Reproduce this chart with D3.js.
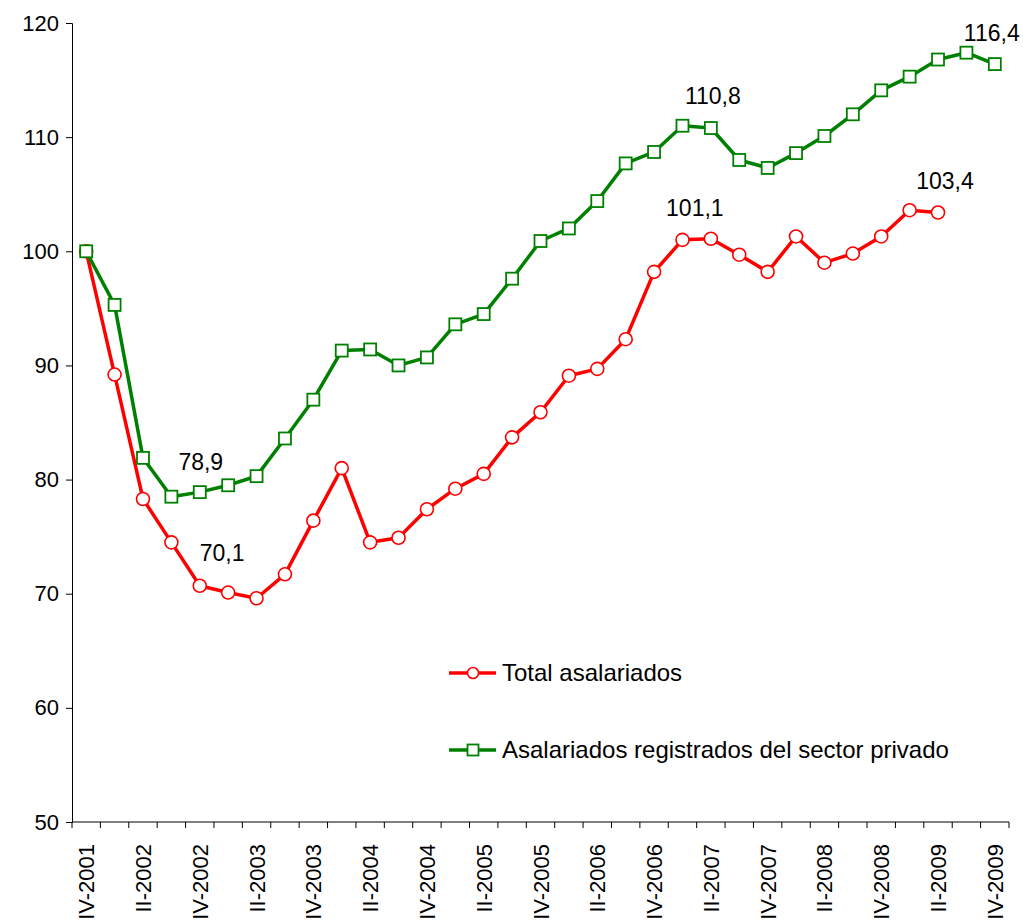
<!DOCTYPE html>
<html>
<head>
<meta charset="utf-8">
<script src="https://cdn.jsdelivr.net/npm/d3@7"></script>
<style>
  body { margin: 0; background: #fff; }
  text { font-family: "Liberation Sans", Arial, sans-serif; fill: #000; }
</style>
</head>
<body>
<div class="chart"></div>
<script>
// quarters IV-2001 .. IV-2009
var quarters = ["IV-2001",
  "I-2002", "II-2002", "III-2002", "IV-2002",
  "I-2003", "II-2003", "III-2003", "IV-2003",
  "I-2004", "II-2004", "III-2004", "IV-2004",
  "I-2005", "II-2005", "III-2005", "IV-2005",
  "I-2006", "II-2006", "III-2006", "IV-2006",
  "I-2007", "II-2007", "III-2007", "IV-2007",
  "I-2008", "II-2008", "III-2008", "IV-2008",
  "I-2009", "II-2009", "III-2009", "IV-2009"];

var totalAsalariados = [100,
  89.2, 78.3, 74.5, 70.7,
  70.1, 69.6, 71.7, 76.4,
  81.0, 74.5, 74.9, 77.4,
  79.2, 80.5, 83.7, 85.9,
  89.1, 89.7, 92.3, 98.2,
  101.0, 101.1, 99.7, 98.2,
  101.3, 99.0, 99.8, 101.3,
  103.6, 103.4];

var registradosPrivado = [100,
  95.3, 81.9, 78.5, 78.9,
  79.5, 80.3, 83.6, 87.0,
  91.3, 91.4, 90.0, 90.7,
  93.6, 94.5, 97.6, 100.9,
  102.0, 104.4, 107.7, 108.7,
  111.0, 110.8, 108.0, 107.3,
  108.6, 110.1, 112.0, 114.1,
  115.3, 116.8, 117.4, 116.4];

var yTicks = [50, 60, 70, 80, 90, 100, 110, 120];

var seriesNames = ["Total asalariados", "Asalariados registrados del sector privado"];

// annotated values: [series index, quarter, text]
var annotations = [
  [1, "IV-2002", "78,9"],
  [0, "I-2003", "70,1"],
  [1, "II-2007", "110,8"],
  [0, "II-2007", "101,1"],
  [0, "II-2009", "103,4"],
  [1, "IV-2009", "116,4"]
];
// label offsets from the point (px)
var annOffset = [[1, -30], [-6, -40], [2, -32], [-16, -31], [7, -32], [-3, -31]];

var svgWidth = 1023;
var svgHeight = 922;
var margin = { top: 23, right: 14, bottom: 100, left: 72 };
var width = svgWidth - margin.left - margin.right;
var height = svgHeight - margin.top - margin.bottom;

var svg = d3.select(".chart")
  .append("svg")
  .attr("width", svgWidth)
  .attr("height", svgHeight);

var chartGroup = svg.append("g")
  .attr("transform", `translate(${margin.left}, ${margin.top})`);

var xScale = d3.scaleBand()
  .domain(quarters)
  .range([0, width]);

var yScale = d3.scaleLinear()
  .domain([50, 120])
  .range([height, 0]);

var cx = d => xScale(d) + xScale.bandwidth() / 2;

// y axis
var leftAxis = d3.axisLeft(yScale).tickValues(yTicks).tickSize(6).tickPadding(7);
var yAxis = chartGroup.append("g").call(leftAxis);
yAxis.select(".domain").attr("stroke", "#000");
yAxis.selectAll(".tick line").attr("stroke", "#000");
yAxis.selectAll("text").style("font-size", "22px").attr("fill", "#000");

// x axis: ticks at category boundaries, labels every 2nd quarter
var xAxis = chartGroup.append("g").attr("transform", `translate(0, ${height})`);
xAxis.append("line")
  .attr("x1", 0).attr("x2", width)
  .attr("stroke", "#000");
var bounds = quarters.map(q => xScale(q)).concat([width]);
xAxis.selectAll("line.tk")
  .data(bounds)
  .enter()
  .append("line")
  .attr("class", "tk")
  .attr("x1", d => d).attr("x2", d => d)
  .attr("y1", 0).attr("y2", 6)
  .attr("stroke", "#000");
xAxis.selectAll("text")
  .data(quarters.filter((q, i) => i % 2 === 0))
  .enter()
  .append("text")
  .attr("transform", d => `translate(${cx(d) + 8}, 22) rotate(-90)`)
  .attr("text-anchor", "end")
  .style("font-size", "22px")
  .text(d => d);

var colors = ["#ff0000", "#008000"];
var allSeries = [totalAsalariados, registradosPrivado];

var line = d3.line()
  .x((d, i) => cx(quarters[i]))
  .y(d => yScale(d));

allSeries.forEach(function(vals, s) {
  chartGroup.append("path")
    .datum(vals)
    .attr("fill", "none")
    .attr("stroke", colors[s])
    .attr("stroke-width", 3.5)
    .attr("stroke-linejoin", "round")
    .attr("d", line);

  if (s === 0) {
    chartGroup.selectAll("circle.pt")
      .data(vals)
      .enter()
      .append("circle")
      .attr("class", "pt")
      .attr("cx", (d, i) => cx(quarters[i]))
      .attr("cy", d => yScale(d))
      .attr("r", 6.5)
      .attr("fill", "#fff")
      .attr("stroke", colors[s])
      .attr("stroke-width", 1.6);
  } else {
    chartGroup.selectAll("rect.pt")
      .data(vals)
      .enter()
      .append("rect")
      .attr("class", "pt")
      .attr("x", (d, i) => cx(quarters[i]) - 6)
      .attr("y", d => yScale(d) - 6)
      .attr("width", 12)
      .attr("height", 12)
      .attr("fill", "#fff")
      .attr("stroke", colors[s])
      .attr("stroke-width", 1.8);
  }
});

// value labels
annotations.forEach(function(a, k) {
  var vals = allSeries[a[0]];
  var idx = quarters.indexOf(a[1]);
  chartGroup.append("text")
    .attr("x", cx(a[1]) + annOffset[k][0])
    .attr("y", yScale(vals[idx]) + annOffset[k][1])
    .attr("text-anchor", "middle")
    .attr("dy", "0.35em")
    .style("font-size", "23px")
    .text(a[2]);
});

// legend
var legend = svg.append("g").attr("transform", "translate(449, 673)");
seriesNames.forEach(function(name, s) {
  var g = legend.append("g").attr("transform", `translate(0, ${s * 77})`);
  g.append("line")
    .attr("x1", 0).attr("x2", 47)
    .attr("stroke", colors[s])
    .attr("stroke-width", 3.5);
  if (s === 0) {
    g.append("circle").attr("cx", 24).attr("r", 5.5)
      .attr("fill", "#fff").attr("stroke", colors[s]).attr("stroke-width", 1.6);
  } else {
    g.append("rect").attr("x", 18.5).attr("y", -5.5).attr("width", 11).attr("height", 11)
      .attr("fill", "#fff").attr("stroke", colors[s]).attr("stroke-width", 1.8);
  }
  g.append("text")
    .attr("x", 53)
    .attr("dy", "0.35em")
    .style("font-size", "24px")
    .text(name);
});
</script>
</body>
</html>
